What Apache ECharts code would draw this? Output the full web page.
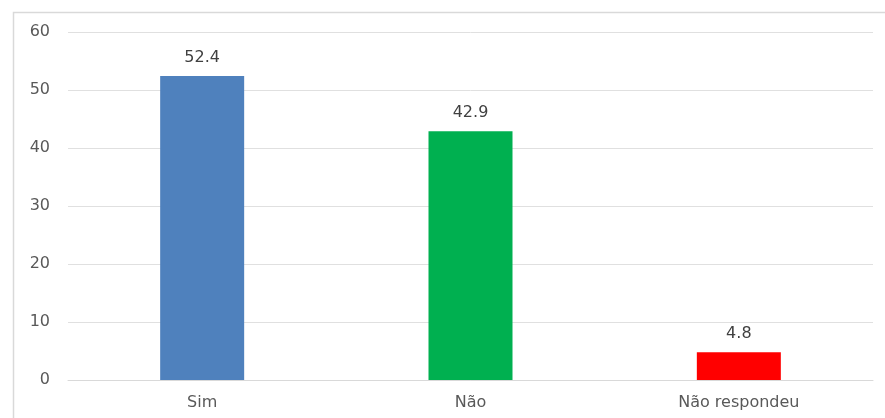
<!DOCTYPE html>
<html><head><meta charset="utf-8">
<script src="https://cdn.jsdelivr.net/npm/echarts@6/dist/echarts.min.js"></script>
<style>html,body{margin:0;padding:0;background:#fff}#c{width:885px;height:418px}</style>
</head><body><div id="c"></div>
<script>
const categories = ['Sim', 'Não', 'Não respondeu'];
const values = [52.4, 42.9, 4.8];
const barColors = ['#4F81BD', '#00B050', '#FF0000'];
const yTicks = [0, 10, 20, 30, 40, 50, 60];

const chart = echarts.init(document.getElementById('c'), null, {renderer: 'canvas'});
const font = '"DejaVu Sans", sans-serif';
chart.setOption({
  animation: false,
  backgroundColor: '#fff',
  graphic: [{
    type: 'rect', left: 11, top: 10,
    shape: {width: 900, height: 430},
    style: {fill: 'none', stroke: '#d9d9d9', lineWidth: 1.5},
    silent: true
  }],
  grid: {left: 68, right: 12, top: 32, bottom: 38},
  xAxis: {
    type: 'category', data: categories,
    axisTick: {show: false},
    axisLine: {lineStyle: {color: '#d9d9d9', width: 1}},
    axisLabel: {color: '#595959', fontSize: 16, fontFamily: font, margin: 15}
  },
  yAxis: {
    type: 'value', min: yTicks[0], max: yTicks[yTicks.length - 1], interval: 10,
    axisLine: {show: false}, axisTick: {show: false},
    splitLine: {lineStyle: {color: '#e0e0e0', width: 1}},
    axisLabel: {color: '#595959', fontSize: 16, fontFamily: font, margin: 18}
  },
  series: [{
    type: 'bar',
    data: values.map((v, i) => ({value: v, itemStyle: {color: barColors[i]}})),
    barWidth: 84,
    label: {show: true, position: 'top', distance: 10, color: '#404040', fontSize: 16, fontFamily: font}
  }]
});
</script></body></html>
